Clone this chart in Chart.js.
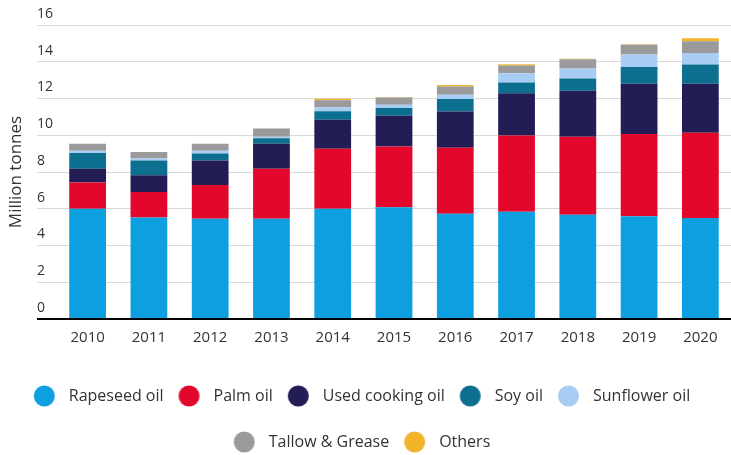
<!DOCTYPE html>
<html>
<head>
<meta charset="utf-8">
<script src="https://cdn.jsdelivr.net/npm/chart.js@4"></script>
<style>
  html, body { margin: 0; padding: 0; background: #fff; }
  #wrap { width: 731px; height: 455px; }
</style>
</head>
<body>
<div id="wrap"><canvas id="bar-chart-stacked"></canvas></div>
<script>
// feedstock volumes, million tonnes
var years = ["2010", "2011", "2012", "2013", "2014", "2015", "2016", "2017", "2018", "2019", "2020"];
var rapeseed  = [6.00, 5.53, 5.45, 5.45, 6.00, 6.08, 5.73, 5.83, 5.68, 5.59, 5.50];
var palm      = [1.43, 1.38, 1.84, 2.73, 3.26, 3.31, 3.59, 4.16, 4.24, 4.48, 4.64];
var usedCooking = [0.75, 0.91, 1.34, 1.36, 1.59, 1.67, 1.97, 2.30, 2.50, 2.73, 2.66];
var soy       = [0.85, 0.81, 0.38, 0.29, 0.45, 0.42, 0.68, 0.58, 0.67, 0.91, 1.05];
var sunflower = [0.13, 0.11, 0.15, 0.09, 0.22, 0.18, 0.23, 0.51, 0.54, 0.69, 0.62];
var tallow    = [0.38, 0.35, 0.38, 0.45, 0.38, 0.39, 0.45, 0.41, 0.51, 0.52, 0.65];
var others    = [0.00, 0.00, 0.00, 0.00, 0.08, 0.03, 0.08, 0.08, 0.03, 0.03, 0.16];
var yTicks = [0, 16, 2];

var FONT = "'Open Sans', sans-serif";

// round legend marker, drawn left of the label box centre so the text gets some air
function dot(color) {
  var c = document.createElement("canvas");
  c.width = 60; c.height = 24;
  var ctx = c.getContext("2d");
  ctx.fillStyle = color;
  ctx.beginPath();
  ctx.arc(19.5, 12, 10.5, 0, Math.PI * 2);
  ctx.fill();
  return c;
}

new Chart(document.getElementById("bar-chart-stacked"), {
  type: 'bar',
  data: {
    labels: years,
    datasets: [
      { label: "Rapeseed oil", backgroundColor: "#0e9fe0", data: rapeseed },
      { label: "Palm oil", backgroundColor: "#e3082b", data: palm },
      { label: "Used cooking oil", backgroundColor: "#221d55", data: usedCooking },
      { label: "Soy oil", backgroundColor: "#0d6f8f", data: soy },
      { label: "Sunflower oil", backgroundColor: "#a7cdf3", data: sunflower },
      { label: "Tallow & Grease", backgroundColor: "#9a9a9a", data: tallow },
      { label: "Others", backgroundColor: "#f1b52c", data: others }
    ]
  },
  options: {
    responsive: true,
    maintainAspectRatio: false,
    animation: false,
    categoryPercentage: 0.6,
    barPercentage: 1.0,
    layout: { padding: { top: 25, left: 8, right: 0, bottom: -5 } },
    plugins: {
      tooltip: { enabled: false },
      legend: {
        position: 'bottom',
        labels: {
          usePointStyle: true,
          boxWidth: 12,
          boxHeight: 16,
          padding: 30,
          color: '#333',
          font: { family: FONT, size: 16 },
          generateLabels: function (chart) {
            var items = Chart.defaults.plugins.legend.labels.generateLabels(chart);
            items.forEach(function (it) {
              it.pointStyle = dot(chart.data.datasets[it.datasetIndex].backgroundColor);
            });
            return items;
          }
        }
      }
    },
    scales: {
      x: {
        stacked: true,
        grid: { display: false, drawTicks: false },
        border: { display: false },
        ticks: { color: '#333', padding: 10, font: { family: FONT, size: 15 } },
        afterFit: function (scale) { scale.height = 39; }
      },
      y: {
        stacked: true,
        min: yTicks[0],
        max: yTicks[1],
        border: { display: false },
        grid: {
          color: function (ctx) { return ctx.tick && ctx.tick.value === 0 ? '#000' : '#d9d9d9'; },
          lineWidth: function (ctx) { return ctx.tick && ctx.tick.value === 0 ? 2 : 1; },
          tickLength: 20
        },
        ticks: {
          stepSize: yTicks[2],
          mirror: true,
          padding: -20,
          labelOffset: -11,
          color: '#333',
          font: { family: FONT, size: 14 }
        },
        title: {
          display: true,
          text: 'Million tonnes',
          color: '#333',
          padding: { top: -2, bottom: 0 },
          font: { family: FONT, size: 17 }
        },
        afterFit: function (scale) { scale.width = 49; }
      }
    }
  }
});
</script>
</body>
</html>
